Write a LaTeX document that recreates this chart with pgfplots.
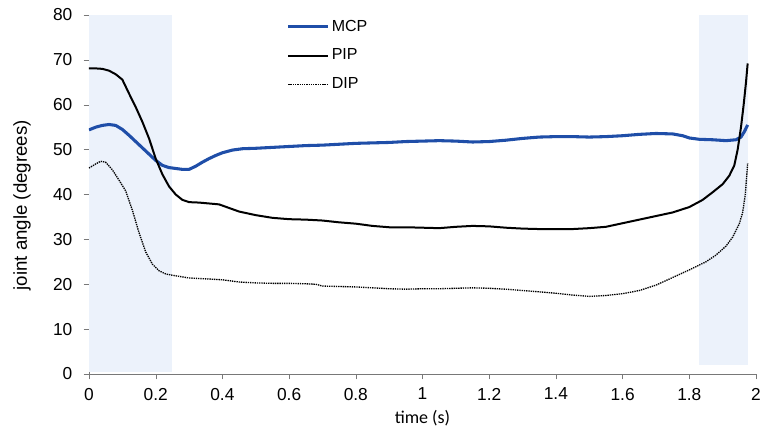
\documentclass[border=0pt]{standalone}
\usepackage{pgfplots}
\pgfplotsset{compat=1.18}
\usepackage{fontspec}
\setmainfont{Liberation Sans}
\newfontfamily\calib{Carlito}
\definecolor{mcpblue}{RGB}{31,78,168}
\definecolor{shade}{RGB}{236,242,251}
\definecolor{axgray}{RGB}{120,120,120}
\begin{document}
\begin{tikzpicture}
\useasboundingbox (-66.75pt,-45pt) rectangle (503.25pt,280.5pt);
\begin{axis}[
  scale only axis, width=500.25pt, height=269.25pt,
  xmin=0, xmax=2, ymin=0, ymax=80,
  xtick={0,0.2,...,2.01}, ytick={0,10,...,80},
  axis x line=bottom, axis y line=left,
  axis line style={draw=axgray, -},
  tick style={draw=axgray},
  tick align=outside, major tick length=4pt,
  xtick pos=bottom, ytick pos=left,
  /pgf/number format/assume math mode=true,
  tick label style={font=\fontsize{13}{15}\selectfont},
  xticklabel style={yshift=-3pt},
  yticklabel style={xshift=-5pt},
  xlabel={\calib time (s)},
  xlabel style={at={(axis description cs:0.5,-0.1226)}, anchor=center, font=\fontsize{13.5}{15}\selectfont},
  ylabel={joint angle (degrees)},
  ylabel style={at={(axis description cs:-0.1004,0.47)}, anchor=center, font=\fontsize{14}{16}\selectfont},
  legend style={draw=none, fill=none, at={(axis description cs:0.29,1.0)}, anchor=north west,
    font=\fontsize{12}{14}\selectfont, row sep=8pt,
    nodes={inner sep=1.5pt, text height=8.5pt, text depth=2pt}},
  legend cell align=left,
  legend image code/.code={\draw[#1] (0pt,0pt) -- (30pt,0pt);},
]
\addplot[fill=shade, draw=none, forget plot] coordinates {(0,0.5) (0.248,0.5) (0.248,80) (0,80)} -- cycle;
\addplot[fill=shade, draw=none, forget plot] coordinates {(1.83,2) (1.975,2) (1.975,80.5) (1.83,80.5)} -- cycle;
\addplot[mcpblue, line width=2.3pt, line join=round] coordinates {
(0,54.4) (0.02,55.0) (0.04,55.4) (0.06,55.6) (0.08,55.4) (0.10,54.5) (0.12,53.2) (0.14,51.8) (0.16,50.4) (0.18,49.0) (0.20,47.6) (0.22,46.5) (0.24,46.0) (0.26,45.8) (0.28,45.6) (0.30,45.6) (0.32,46.3) (0.34,47.2) (0.36,48.0) (0.38,48.7) (0.40,49.3) (0.43,49.9) (0.46,50.2) (0.50,50.3) (0.55,50.5) (0.60,50.7) (0.65,50.9) (0.70,51.0) (0.75,51.2) (0.80,51.4) (0.85,51.5) (0.90,51.6) (0.95,51.8) (1.00,51.9) (1.05,52.0) (1.10,51.9) (1.15,51.7) (1.20,51.8) (1.25,52.1) (1.30,52.5) (1.35,52.8) (1.40,52.9) (1.45,52.9) (1.50,52.8) (1.55,52.9) (1.60,53.1) (1.65,53.4) (1.70,53.6) (1.75,53.5) (1.78,53.1) (1.80,52.6) (1.83,52.3) (1.87,52.2) (1.91,52.0) (1.94,52.2) (1.955,52.8) (1.965,54.0) (1.975,55.5)};
\addlegendentry{MCP}
\addplot[black, line width=1.5pt, line join=round] coordinates {
(0,68.1) (0.02,68.1) (0.04,68.0) (0.06,67.6) (0.08,66.8) (0.10,65.6) (0.12,62.5) (0.14,59.5) (0.16,56.2) (0.18,52.5) (0.20,48.0) (0.22,44.5) (0.24,41.8) (0.26,40.0) (0.28,38.8) (0.30,38.3) (0.33,38.2) (0.36,38.0) (0.39,37.8) (0.42,37.0) (0.45,36.2) (0.50,35.4) (0.55,34.8) (0.60,34.5) (0.65,34.4) (0.70,34.2) (0.75,33.8) (0.80,33.5) (0.85,33.0) (0.90,32.7) (0.95,32.7) (1.00,32.6) (1.05,32.5) (1.10,32.8) (1.15,33.0) (1.20,32.9) (1.25,32.6) (1.30,32.4) (1.35,32.3) (1.40,32.3) (1.45,32.3) (1.50,32.5) (1.55,32.8) (1.60,33.6) (1.65,34.4) (1.70,35.2) (1.75,36.0) (1.80,37.2) (1.84,38.8) (1.87,40.5) (1.90,42.3) (1.92,44.2) (1.935,46.5) (1.945,50) (1.955,55) (1.963,60) (1.97,65) (1.975,69.2)};
\addlegendentry{PIP}
\addplot[black, line width=1pt, dash pattern=on 1pt off 0.7pt] coordinates {
(0,45.9) (0.02,46.8) (0.035,47.4) (0.05,47.2) (0.07,45.5) (0.09,43.2) (0.11,40.8) (0.13,36.5) (0.15,31.5) (0.17,27.2) (0.19,24.5) (0.21,23.0) (0.23,22.3) (0.25,22.0) (0.30,21.4) (0.35,21.2) (0.40,21.0) (0.45,20.5) (0.50,20.3) (0.55,20.2) (0.60,20.2) (0.65,20.1) (0.68,20.0) (0.70,19.6) (0.75,19.5) (0.80,19.4) (0.85,19.2) (0.90,19.0) (0.95,18.9) (1.00,19.0) (1.05,19.0) (1.10,19.1) (1.15,19.2) (1.20,19.1) (1.25,18.9) (1.30,18.6) (1.35,18.3) (1.40,18.0) (1.45,17.6) (1.50,17.3) (1.55,17.5) (1.60,17.9) (1.65,18.6) (1.70,19.8) (1.75,21.5) (1.80,23.2) (1.85,25.0) (1.88,26.5) (1.91,28.5) (1.93,30.5) (1.95,33.5) (1.96,36) (1.968,40) (1.975,47)};
\addlegendentry{DIP}
\end{axis}
\end{tikzpicture}
\end{document}
